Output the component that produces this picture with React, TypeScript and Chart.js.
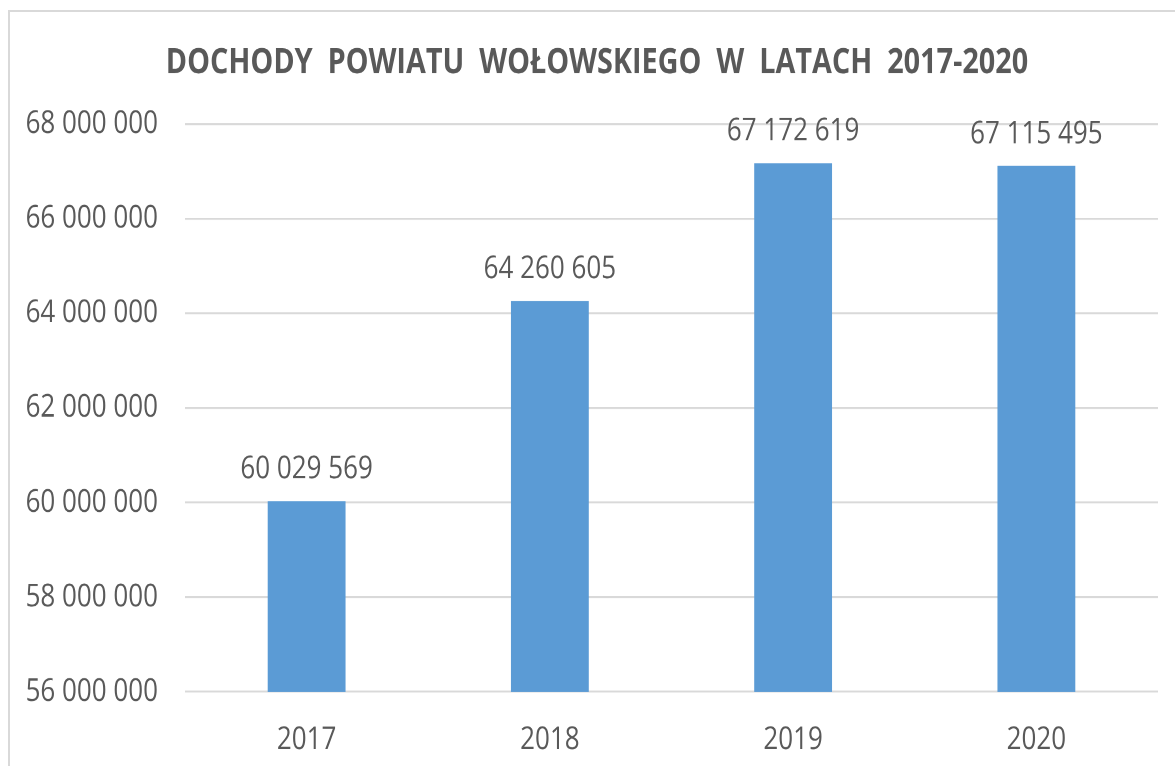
import React, { useEffect, useRef } from "react";
import { Chart, registerables } from "chart.js";

Chart.register(...registerables);

const TITLE = "DOCHODY  POWIATU  WOŁOWSKIEGO  W  LATACH  2017-2020";
const categories = ["2017", "2018", "2019", "2020"];
const revenues = [60029569, 64260605, 67172619, 67115495];
const yMin = 56000000;
const yMax = 68000000;
const yStep = 2000000;

const SY = 1.22;
const W = 1175;
const H = Math.round(766 / SY);
const FONT = "'Open Sans', 'DejaVu Sans', sans-serif";
const TEXT = "#595959";

const fmt = (v: number) =>
  Math.round(v)
    .toString()
    .replace(/\B(?=(\d{3})+(?!\d))/g, " ");

export default function App() {
  const ref = useRef<HTMLCanvasElement>(null);

  useEffect(() => {
    document.body.style.margin = "0";
    document.body.style.overflow = "hidden";
    document.documentElement.style.overflow = "hidden";

    const labelPlugin = {
      id: "valueLabels",
      afterDatasetsDraw(chart: any) {
        const ctx = chart.ctx;
        const meta = chart.getDatasetMeta(0);
        ctx.save();
        ctx.font = `26px ${FONT}`;
        ctx.fillStyle = TEXT;
        ctx.textAlign = "center";
        ctx.textBaseline = "middle";
        meta.data.forEach((bar: any, i: number) => {
          ctx.fillText(fmt(revenues[i]), bar.x, bar.y - 26);
        });
        // chart title
        ctx.font = `bold 28.8px ${FONT}`;
        ctx.fillText(TITLE, 597, 52);
        ctx.restore();
      },
    };

    const chart = new Chart(ref.current as HTMLCanvasElement, {
      type: "bar",
      data: {
        labels: categories,
        datasets: [
          {
            data: revenues,
            backgroundColor: "#5B9BD5",
            borderWidth: 0,
            barPercentage: 0.32,
            categoryPercentage: 1,
          },
        ],
      },
      options: {
        responsive: false,
        animation: false,
        devicePixelRatio: 2,
        layout: { padding: { left: 0, right: 17, top: 101.6, bottom: 0 } },
        plugins: {
          legend: { display: false },
          tooltip: { enabled: false },
          title: { display: false },
        },
        scales: {
          x: {
            grid: { display: false },
            border: { display: false },
            afterFit: (scale: any) => {
              scale.height = H - 567;
            },
            ticks: {
              color: TEXT,
              font: { family: FONT, size: 26 },
              padding: 16,
              maxRotation: 0,
            },
          },
          y: {
            min: yMin,
            max: yMax,
            afterFit: (scale: any) => {
              scale.width = 185;
            },
            grid: {
              color: "#d9d9d9",
              lineWidth: 1.6,
              drawTicks: false,
            },
            border: { display: false },
            ticks: {
              stepSize: yStep,
              color: TEXT,
              font: { family: FONT, size: 26 },
              padding: 27,
              callback: (v: any) => fmt(Number(v)),
            },
          },
        },
      },
      plugins: [labelPlugin],
    } as any);

    return () => chart.destroy();
  }, []);

  return (
    <div style={{ position: "relative", width: W, height: 766, overflow: "hidden" }}>
      <div
        style={{
          position: "absolute",
          left: 8,
          top: 10,
          width: 1300,
          height: 900,
          borderLeft: "2px solid #d9d9d9",
          borderTop: "2px solid #d9d9d9",
          boxSizing: "border-box",
        }}
      />
      <div
        style={{
          position: "absolute",
          left: 0,
          top: 0,
          width: W,
          height: H,
          transform: `scaleY(${SY})`,
          transformOrigin: "0 0",
        }}
      >
        <canvas ref={ref} width={W} height={H} />
      </div>
    </div>
  );
}
